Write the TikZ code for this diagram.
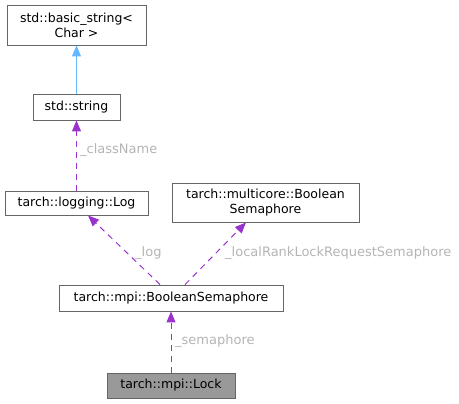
\documentclass[tikz,border=0pt]{standalone}
\usepackage{fontspec}
\setmainfont{DejaVu Sans}
\usetikzlibrary{arrows.meta}
\definecolor{boxline}{HTML}{666666}
\definecolor{dep}{HTML}{9A32CD}
\definecolor{inh}{HTML}{63B8FF}
\definecolor{lbl}{HTML}{B4B4B4}
\begin{document}
\begin{tikzpicture}[x=1pt,y=-1pt,
  cls/.style={draw=boxline,line width=0.9pt,fill=white,inner sep=0pt,align=center,font=\fontsize{12.5}{15}\selectfont},
  depedge/.style={draw=dep,line width=1pt,dash pattern=on 6pt off 5pt,-{Triangle[length=11pt,width=9pt,fill=dep]}},
  inhedge/.style={draw=inh,line width=1pt,-{Triangle[length=11pt,width=9pt,fill=inh]}},
  elabel/.style={text=lbl,font=\fontsize{13}{15}\selectfont,inner sep=0pt}]
\useasboundingbox (0,0) rectangle (459,404);
\node[cls,minimum width=139pt,minimum height=40pt] (bstr) at (76.5,25) {std::basic\_string<\\Char >};
\node[cls,minimum width=87pt,minimum height=26pt] (str) at (76.5,107) {std::string};
\node[cls,minimum width=143pt,minimum height=24pt] (log) at (76.5,203) {tarch::logging::Log};
\node[cls,minimum width=187pt,minimum height=39pt] (mcbs) at (265.5,202.5) {tarch::multicore::Boolean\\Semaphore};
\node[cls,minimum width=224pt,minimum height=26pt] (bs) at (171,298) {tarch::mpi::BooleanSemaphore};
\node[cls,fill=black!40,minimum width=128pt,minimum height=25pt] (lock) at (171,385.5) {tarch::mpi::Lock};
\draw[inhedge] (str.north) -- (bstr.south);
\draw[depedge] (log.north) -- (str.south);
\draw[depedge] ([xshift=-11pt]bs.north) -- ([xshift=11.5pt]log.south);
\draw[depedge] ([xshift=14pt]bs.north) -- ([xshift=-19.5pt]mcbs.south);
\draw[depedge] (lock.north) -- (bs.south);
\node[elabel,anchor=west] (l1) at (80,150) {\_className};
\node[elabel,anchor=west] (l2) at (135,253) {\_log};
\node[elabel,anchor=west] (l3) at (225,253) {\_localRankLockRequestSemaphore};
\node[elabel,anchor=west] (l4) at (175,341) {\_semaphore};
\end{tikzpicture}
\end{document}
